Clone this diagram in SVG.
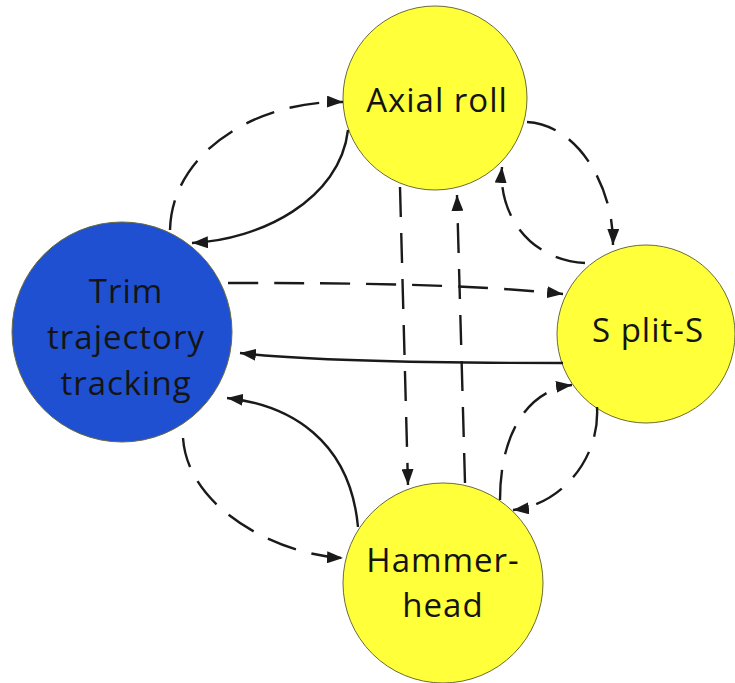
<svg xmlns="http://www.w3.org/2000/svg" width="735" height="683" viewBox="0 0 735 683">
<defs>
<style>
.node circle{stroke:#6b6b3a;stroke-width:1}
.yel{fill:#ffff3a}
.blue{fill:#1f50d2;stroke:#1a2f70}
.lbl{font-family:"Open Sans","Noto Sans","DejaVu Sans",sans-serif;font-size:33px;fill:#141414;text-anchor:middle;letter-spacing:1px}
.e{fill:none;stroke:#1a1a1a;stroke-width:2.4}
.d{stroke-dasharray:30 16}
</style>
<marker id="ah" viewBox="0 0 16 12" refX="16" refY="6" markerWidth="16" markerHeight="12" markerUnits="userSpaceOnUse" orient="auto">
<path d="M0,0 L16,6 L0,12 Z" fill="#1a1a1a"/>
</marker>
</defs>
<rect width="735" height="683" fill="#ffffff"/>
<g id="trim" class="node"><circle class="blue" cx="122" cy="332" r="110"/>
<text class="lbl"><tspan x="126" y="303">Trim</tspan><tspan x="126" y="349">trajectory</tspan><tspan x="126" y="395">tracking</tspan></text></g>
<g id="axial" class="node"><circle class="yel" cx="435" cy="98" r="92"/>
<text class="lbl" x="437" y="112">Axial roll</text></g>
<g id="splits" class="node"><circle class="yel" cx="646" cy="334" r="89"/>
<text class="lbl" x="648" y="342">S plit-S</text></g>
<g id="hammer" class="node"><circle class="yel" cx="443" cy="583" r="100"/>
<text class="lbl"><tspan x="443" y="572">Hammer-</tspan><tspan x="443" y="617">head</tspan></text></g>
<g id="connectors">
<path class="e d" d="M170,230 C172,150 260,100 343,102" marker-end="url(#ah)"/>
<path class="e" d="M348,130 C340,200 260,240 192,243" marker-end="url(#ah)"/>
<path class="e d" d="M527,122 C580,125 614,190 613,245" marker-end="url(#ah)"/>
<path class="e d" d="M585,263 C530,260 498,215 502,167" marker-end="url(#ah)"/>
<path class="e d" d="M228,283 C350,283 470,284 563,294" marker-end="url(#ah)"/>
<path class="e" d="M563,363 C450,363 320,362 240,353" marker-end="url(#ah)"/>
<path class="e d" d="M400,187 L408,485" marker-end="url(#ah)"/>
<path class="e d" d="M465,483 L457,195" marker-end="url(#ah)"/>
<path class="e d" d="M183,438 C188,510 280,555 343,558" marker-end="url(#ah)"/>
<path class="e" d="M358,527 C350,440 290,405 227,398" marker-end="url(#ah)"/>
<path class="e d" d="M500,500 C500,430 530,390 572,385" marker-end="url(#ah)"/>
<path class="e d" d="M597,407 C600,460 560,505 513,510" marker-end="url(#ah)"/>
</g>
</svg>
